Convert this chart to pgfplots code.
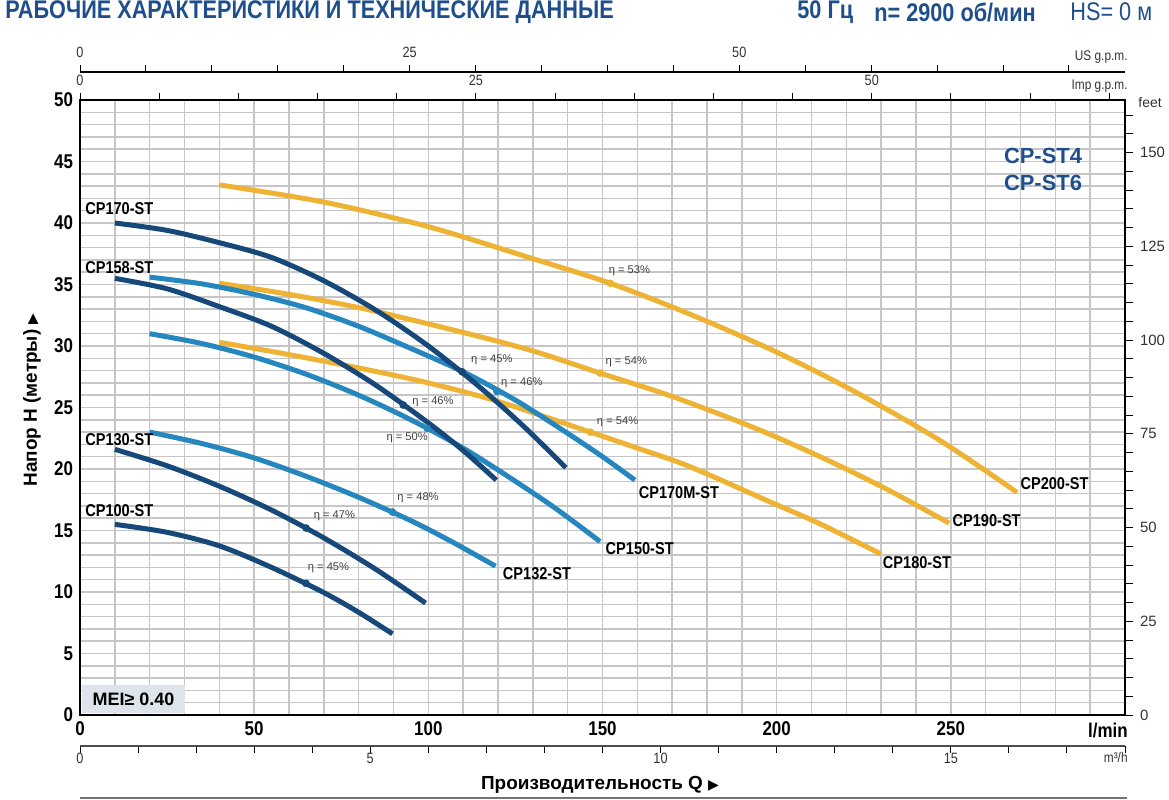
\documentclass[border=0pt]{standalone}
\usepackage{pgfplots}
\pgfplotsset{compat=1.18}
\usepackage{fontspec}
\setmainfont{Liberation Sans}
\newfontfamily\cond[FakeStretch=0.85]{Liberation Sans}
\newfontfamily\dejavu{DejaVu Sans}
\definecolor{navy}{RGB}{23,72,122}
\definecolor{mblue}{RGB}{38,134,190}
\definecolor{gold}{RGB}{238,178,52}
\definecolor{gridc}{RGB}{198,198,198}
\definecolor{titleblue}{RGB}{31,78,140}
\definecolor{meifill}{RGB}{222,228,235}
\begin{document}
\begin{tikzpicture}
\path[use as bounding box] (-40bp,-42.5bp) rectangle (544.5bp,357.5bp);

% main axis
\begin{axis}[at={(0,0)}, anchor=south west, width=522.5bp, height=307.5bp, scale only axis,
  xmin=0, xmax=300, ymin=0, ymax=50,
  xtick={0,50,...,250}, ytick={0,5,...,50},
  minor xtick={10,20,...,290}, minor ytick={1,2,...,49},
  grid=both, major grid style={gridc, line width=0.75bp}, minor grid style={gridc, line width=0.75bp},
  major tick length=0pt, minor tick length=0pt,
  axis line style={black, line width=1.2bp},
  ticklabel style={font=\cond\bfseries\fontsize{10}{12}\selectfont},
  /pgf/number format/assume math mode=true,
  clip=false]
% gold curves
\addplot[gold, line width=2.5bp, smooth] coordinates {(40,43.1)(70,41.7)(100,39.7)(130,37.1)(152.2,35.1)(175,32.6)(200,29.5)(223,26.2)(247,22.3)(269,18.1)};
\addplot[gold, line width=2.5bp, smooth] coordinates {(40,35.1)(60,34.2)(82,33.0)(110,31.1)(130,29.6)(149.3,27.8)(170,25.9)(194,23.3)(214,20.8)(232,18.3)(249.5,15.6)};
\addplot[gold, line width=2.5bp, smooth] coordinates {(40,30.3)(60,29.3)(82,28.1)(100,27.0)(120,25.5)(146.5,23.0)(160,21.7)(175,20.2)(197.5,17.4)(212,15.6)(229.9,13.1)};
\addplot[gold, only marks, mark=*, mark size=1.7bp] coordinates {(152.2,35.1)(149.3,27.8)(146.5,23.0)};
% medium blue curves
\addplot[mblue, line width=2.5bp, smooth] coordinates {(20,35.6)(35,35.05)(50,34.2)(65,33.1)(80,31.6)(95,29.8)(110,27.9)(125,25.6)(140,22.9)(150,21.0)(159.3,19.1)};
\addplot[mblue, line width=2.5bp, smooth] coordinates {(20,31.0)(35,30.2)(50,29.1)(65,27.7)(80,26.0)(95,24.0)(110,21.7)(125,19.0)(137,16.7)(149.3,14.1)};
\addplot[mblue, line width=2.5bp, smooth] coordinates {(20,23.0)(35,22.07)(50,20.9)(65,19.4)(80,17.7)(95,15.8)(107,14.05)(119.3,12.1)};
\addplot[mblue, only marks, mark=*, mark size=1.7bp] coordinates {(119.7,26.3)(99.7,23.3)(89.7,16.5)};
% navy curves
\addplot[navy, line width=2.5bp, smooth] coordinates {(10,40.0)(25,39.4)(40,38.4)(55,37.2)(70,35.3)(85,32.9)(100,30.0)(115,26.6)(128,23.3)(139.5,20.1)};
\addplot[navy, line width=2.5bp, smooth] coordinates {(10,35.5)(25,34.65)(40,33.2)(55,31.6)(70,29.4)(85,26.8)(100,23.75)(110,21.5)(119.5,19.1)};
\addplot[navy, line width=2.5bp, smooth] coordinates {(10,21.6)(25,20.26)(40,18.6)(55,16.66)(70,14.4)(85,11.83)(99.2,9.1)};
\addplot[navy, line width=2.5bp, smooth] coordinates {(10,15.5)(25,14.85)(40,13.75)(55,12.0)(70,9.95)(80,8.35)(89.7,6.6)};
\addplot[navy, only marks, mark=*, mark size=1.7bp] coordinates {(109.7,27.9)(92.8,25.2)(64.9,15.2)(64.9,10.7)};

% curve labels
\begin{scope}[every node/.style={anchor=west, inner sep=0pt, font=\cond\bfseries\fontsize{8.6}{10}\selectfont}]
\node at (axis cs:1.4,41.2) {CP170-ST};
\node at (axis cs:1.4,36.4) {CP158-ST};
\node at (axis cs:1.4,22.36) {CP130-ST};
\node at (axis cs:1.4,16.6) {CP100-ST};
\node at (axis cs:160.3,18.05) {CP170M-ST};
\node at (axis cs:150.8,13.5) {CP150-ST};
\node at (axis cs:121.3,11.46) {CP132-ST};
\node at (axis cs:230.4,12.36) {CP180-ST};
\node at (axis cs:250.4,15.77) {CP190-ST};
\node at (axis cs:269.9,18.78) {CP200-ST};
\end{scope}
\begin{scope}[every node/.style={anchor=west, inner sep=0pt, text=black!75, font=\fontsize{5.6}{6.5}\selectfont}]
\node at (axis cs:151.7,36.1) {η = 53\%};
\node at (axis cs:150.8,28.7) {η = 54\%};
\node at (axis cs:148.3,23.8) {η = 54\%};
\node at (axis cs:112.2,28.86) {η = 45\%};
\node at (axis cs:120.8,27.0) {η = 46\%};
\node at (axis cs:95.3,25.5) {η = 46\%};
\node at (axis cs:87.9,22.5) {η = 50\%};
\node at (axis cs:91.0,17.7) {η = 48\%};
\node at (axis cs:67.0,16.2) {η = 47\%};
\node at (axis cs:65.3,11.95) {η = 45\%};
\end{scope}
\end{axis}

% Imp gpm scale (top edge)
\begin{axis}[at={(0,0)}, anchor=south west, width=522.5bp, height=307.5bp, scale only axis,
  xmin=0, xmax=65.99, ymin=0, ymax=1, axis x line*=top, axis y line=none,
  xtick={0,25,50}, minor xtick={5,10,...,65}, tick align=outside,
  major tick length=3.5bp, minor tick length=3.5bp, tick style={black, line width=0.5bp},
  axis line style={black, line width=0.8bp},
  xticklabel style={font=\cond\fontsize{7.5}{9}\selectfont, text=black!80},
  /pgf/number format/assume math mode=true]
\addplot[draw=none] coordinates {(0,0)};
\end{axis}

% US gpm scale
\begin{axis}[at={(0,320.5bp)}, anchor=south west, width=522.5bp, height=1bp, scale only axis,
  xmin=0, xmax=79.25, ymin=0, ymax=1, axis x line*=top, axis y line=none,
  xtick={0,25,50}, minor xtick={5,10,...,75}, tick align=outside,
  major tick length=3.5bp, minor tick length=3.5bp, tick style={black, line width=0.5bp},
  axis line style={black, line width=0.6bp},
  xticklabel style={font=\cond\fontsize{7.5}{9}\selectfont, text=black!80},
  /pgf/number format/assume math mode=true]
\addplot[draw=none] coordinates {(0,0)};
\end{axis}

% feet scale
\begin{axis}[at={(0,0)}, anchor=south west, width=522.5bp, height=307.5bp, scale only axis,
  xmin=0, xmax=1, ymin=0, ymax=164.042, axis y line*=right, axis x line=none,
  ytick={0,25,...,150}, minor ytick={5,10,...,160}, tick align=outside,
  major tick length=4bp, minor tick length=4bp, tick style={black, line width=0.5bp},
  axis line style={black, line width=1.2bp},
  yticklabel style={font=\fontsize{7.5}{9}\selectfont, text=black!80},
  /pgf/number format/assume math mode=true]
\addplot[draw=none] coordinates {(0,0)};
\end{axis}

% m3/h scale
\begin{axis}[at={(0,-15.5bp)}, anchor=south west, width=522.5bp, height=1bp, scale only axis,
  xmin=0, xmax=18, ymin=0, ymax=1, axis x line*=bottom, axis y line=none,
  xtick={0,5,10,15}, minor xtick={1,2,...,18}, tick align=outside,
  major tick length=3.5bp, minor tick length=3.5bp, tick style={black, line width=0.5bp},
  axis line style={black!70, line width=0.6bp},
  xticklabel style={font=\cond\fontsize{7.5}{9}\selectfont, text=black!80, yshift=3.5bp},
  /pgf/number format/assume math mode=true]
\addplot[draw=none] coordinates {(0,0)};
\end{axis}

% unit labels
\node[anchor=north east, inner sep=0pt, font=\cond\bfseries\fontsize{10}{12}\selectfont] at (524bp,-4bp) {l/min};
\node[anchor=east, inner sep=0pt, font=\cond\fontsize{7}{8}\selectfont, text=black!80] at (524bp,-21.5bp) {m³/h};
\node[anchor=east, inner sep=0pt, font=\cond\fontsize{7}{8}\selectfont, text=black!80] at (524bp,314.5bp) {Imp g.p.m.};
\node[anchor=east, inner sep=0pt, font=\cond\fontsize{7}{8}\selectfont, text=black!80] at (524bp,329bp) {US g.p.m.};
\node[anchor=west, inner sep=0pt, font=\fontsize{7}{8}\selectfont, text=black!80] at (529bp,306bp) {feet};

% MEI box
\node[anchor=south west, fill=meifill, inner sep=0pt, minimum width=51.5bp, minimum height=14bp, font=\bfseries\fontsize{9}{10}\selectfont] at (0.8bp,0.8bp) {MEI≥ 0.40};

% CP-ST label
\node[anchor=center, inner sep=0pt, text=titleblue, font=\bfseries\fontsize{11}{12}\selectfont, align=center] at (481.5bp,272.8bp) {CP-ST4\\[1.5bp]CP-ST6};

% axis titles
\node[inner sep=0pt, font=\bfseries\fontsize{9.5}{11}\selectfont] at (260bp,-35bp) {Производительность Q {\dejavu\fontsize{7}{8}\selectfont ▶}};
\node[inner sep=0pt, rotate=90, font=\bfseries\fontsize{9.5}{11}\selectfont] at (-24bp,157.5bp) {Напор H (метры) {\dejavu\fontsize{7}{8}\selectfont ▶}};

% header
\node[anchor=west, inner sep=0pt, text=titleblue, font=\cond\bfseries\fontsize{12.8}{14}\selectfont] at (-37.5bp,351.5bp) {РАБОЧИЕ ХАРАКТЕРИСТИКИ И ТЕХНИЧЕСКИЕ ДАННЫЕ};
\node[anchor=west, inner sep=0pt, text=titleblue, font=\cond\bfseries\fontsize{12.8}{14}\selectfont] at (358.5bp,351.5bp) {50 Гц};
\node[anchor=west, inner sep=0pt, text=titleblue, font=\cond\bfseries\fontsize{12.8}{14}\selectfont] at (397bp,351.5bp) {n= 2900 об/мин};
\node[anchor=west, inner sep=0pt, text=titleblue, font=\cond\fontsize{12.8}{14}\selectfont] at (495bp,351.5bp) {HS= 0 м};

% bottom rule
\draw[black!55, line width=0.8bp] (0,-41.5bp) -- (523.5bp,-41.5bp);
\end{tikzpicture}
\end{document}
